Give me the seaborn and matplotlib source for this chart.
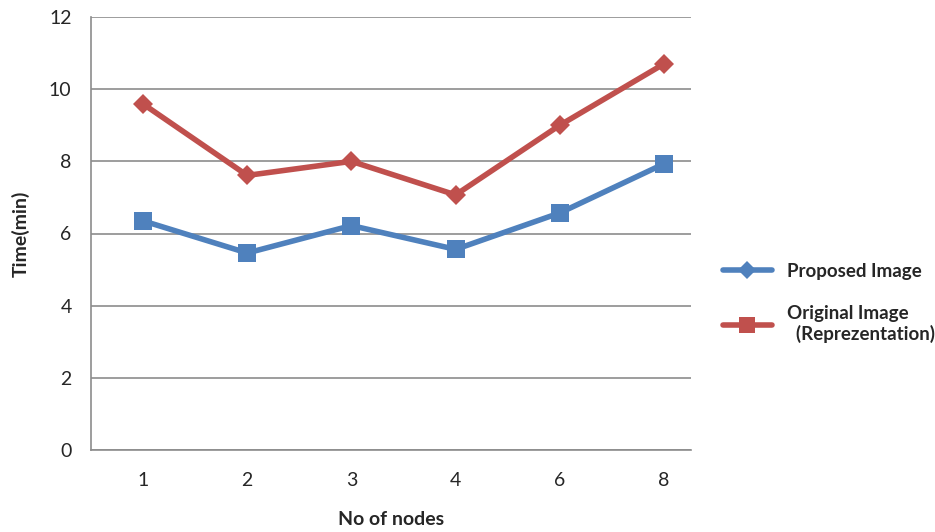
import matplotlib
matplotlib.use("Agg")
import matplotlib.pyplot as plt
import seaborn as sns
import pandas as pd
from matplotlib.lines import Line2D

nodes = ["1", "2", "3", "4", "6", "8"]
proposed = [6.35, 5.46, 6.22, 5.56, 6.57, 7.93]
original = [9.59, 7.61, 8.0, 7.07, 9.0, 10.7]
series_names = ["Proposed Image", "Original Image\n  (Reprezentation)"]
blue = "#4F81BD"
red = "#C0504D"

df = pd.DataFrame({
    "nodes": nodes * 2,
    "time": proposed + original,
    "series": [series_names[0]] * len(nodes) + [series_names[1]] * len(nodes),
})

sns.set_style("white")
plt.rcParams["font.family"] = ["Lato", "DejaVu Sans"]

fig = plt.figure(figsize=(9.35, 5.32), dpi=100)
ax = fig.add_axes([91 / 935, (532 - 450) / 532, 600 / 935, 433 / 532])

sns.lineplot(data=df, x="nodes", y="time", hue="series", style="series",
             palette={series_names[0]: blue, series_names[1]: red},
             markers={series_names[0]: "s", series_names[1]: "D"},
             dashes=False, linewidth=4, markersize=13, markeredgewidth=0,
             ax=ax, legend=False, sort=False)
for line in ax.get_lines():
    if line.get_marker() == "D":
        line.set_markersize(10)

ax.set_ylim(0, 12)
ax.set_yticks([0, 2, 4, 6, 8, 10, 12])
ax.set_xlim(-0.5, 5.26)
ax.yaxis.grid(True, color="#8C8C8C", linewidth=1.2)
ax.set_axisbelow(True)
for s in ["top", "right"]:
    ax.spines[s].set_visible(False)
for s in ["left", "bottom"]:
    ax.spines[s].set_color("#8C8C8C")
    ax.spines[s].set_linewidth(1.2)

ax.tick_params(axis="y", which="major", length=8, width=1.2, color="#8C8C8C",
               direction="out", labelsize=14, pad=6)
ax.tick_params(axis="x", which="major", length=0, labelsize=14, pad=16)
ax.set_xticks(range(len(nodes)))
ax.set_xticklabels(nodes)
ax.set_xticks([i + 0.5 for i in range(-1, len(nodes) - 1)], minor=True)
ax.tick_params(axis="x", which="minor", length=7, width=1.2, color="#8C8C8C", direction="out")

ax.set_xlabel("No of nodes", fontsize=14, fontweight="bold", labelpad=16)
ax.set_ylabel("Time(min)", fontsize=14, fontweight="bold", labelpad=14)

handles = [
    Line2D([0], [0], color=blue, lw=4, marker="D", markersize=9, markeredgewidth=0),
    Line2D([0], [0], color=red, lw=4, marker="s", markersize=11, markeredgewidth=0),
]
fig.legend(handles, series_names, loc="upper left", bbox_to_anchor=(706 / 935, 1 - 246 / 532),
           frameon=False, prop={"size": 13.5, "weight": "bold"}, handlelength=2.6,
           labelspacing=1.35, handletextpad=0.8)

fig.savefig("out.png", dpi=100, facecolor="white")
